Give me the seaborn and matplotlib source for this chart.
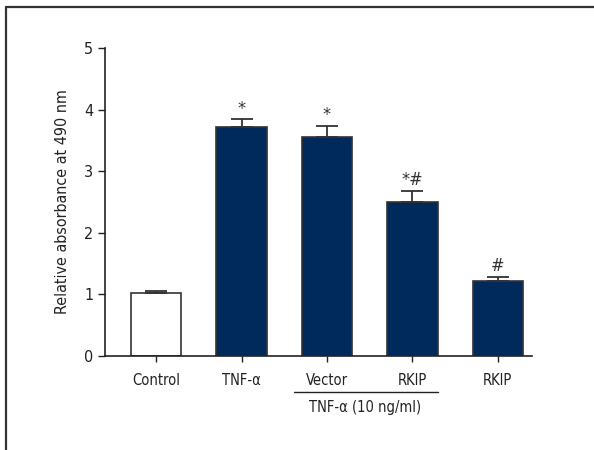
import numpy as np
import pandas as pd
import seaborn as sns
from matplotlib import pyplot as plt
from matplotlib.lines import Line2D

sns.set_style("ticks")
plt.rcParams['font.family'] = ['DejaVu Sans']
plt.rcParams['font.stretch'] = 'condensed'

# data
groups = ["Control", "TNF-α", "Vector", "RKIP", "RKIP "]
means = [1.02, 3.71, 3.56, 2.50, 1.21]
errs = [0.03, 0.13, 0.17, 0.18, 0.08]
marks = ["", "*", "*", "*#", "#"]
bar_colors = ["#ffffff", "#002a5c", "#002a5c", "#002a5c", "#002a5c"]

df = pd.DataFrame({"group": groups, "value": means})

fig = plt.figure(figsize=(5.94, 4.5), dpi=100)
ax = fig.add_axes([0.1768, 0.2089, 0.7188, 0.6844])

sns.barplot(data=df, x="group", y="value", hue="group", palette=bar_colors,
            legend=False, width=0.59, edgecolor="#333333", linewidth=1.2,
            saturation=1, ax=ax, errorbar=None)

x = np.arange(len(groups))
ax.errorbar(x, means, yerr=[np.zeros(len(errs)), errs], fmt="none",
            ecolor="#333333", elinewidth=1.3, capsize=8, capthick=1.3)

for xi, m, e, s in zip(x, means, errs, marks):
    if s:
        ax.text(xi, m + e + 0.03, s, ha="center", va="bottom", fontsize=13,
                color="#333333")

ax.set_xlim(-0.6, 4.4)
ax.set_ylim(0, 5)
ax.set_yticks([0, 1, 2, 3, 4, 5])
ax.set_xticks(x)
ax.set_xticklabels(["Control", "TNF-α", "Vector", "RKIP", "RKIP"])
ax.set_xlabel("")
ax.set_ylabel("Relative absorbance at 490 nm", fontsize=11.5, color="#222222",
              labelpad=10)
ax.tick_params(axis="y", labelsize=11.5, length=5, width=1, colors="#222222")
ax.tick_params(axis="x", labelsize=10.5, length=4, width=1, colors="#222222",
               pad=8)
sns.despine(ax=ax)
for sp in ["left", "bottom"]:
    ax.spines[sp].set_color("#222222")
    ax.spines[sp].set_linewidth(1.2)

# group bracket under Vector / RKIP
ax.add_line(Line2D([1.61, 3.30], [-0.58, -0.58], color="#222222", lw=1,
                   transform=ax.transData, clip_on=False))
ax.text(2.45, -0.72, "TNF-α (10 ng/ml)", ha="center", va="top",
        fontsize=10.5, color="#222222", clip_on=False)

# figure frame (top and left edges)
fig.add_artist(Line2D([6 / 594, 6 / 594], [0, 1 - 7 / 450], color="#333333",
                      lw=1.6, transform=fig.transFigure))
fig.add_artist(Line2D([6 / 594, 1], [1 - 7 / 450, 1 - 7 / 450],
                      color="#333333", lw=1.6, transform=fig.transFigure))

fig.savefig("out.png", dpi=100)
